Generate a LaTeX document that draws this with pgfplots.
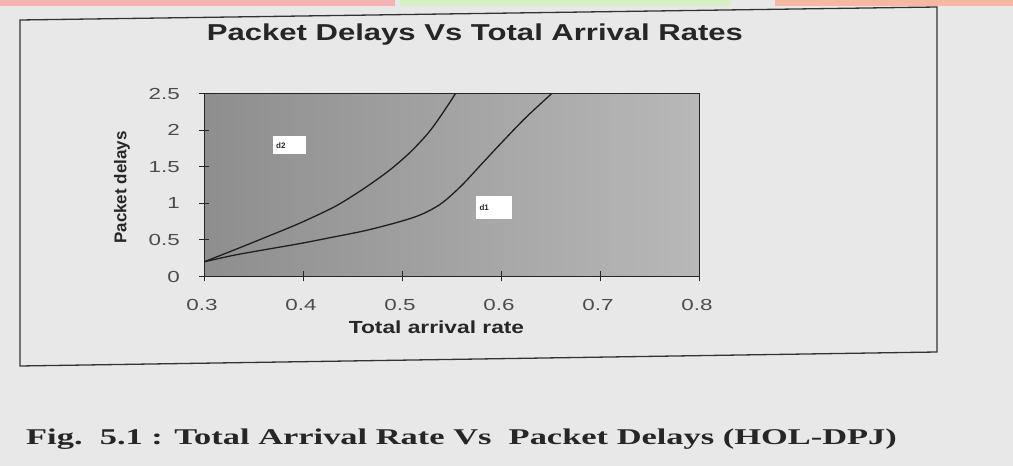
\documentclass[border=0pt]{standalone}
\usepackage{fontspec}
\setmainfont{Liberation Sans}
\newfontfamily\titlefam[FakeStretch=1.35]{Liberation Sans}
\newfontfamily\labelfam[FakeStretch=1.3]{Liberation Sans}
\newfontfamily\tickfam[FakeStretch=1.4]{Liberation Sans}
\newfontfamily\capfam[FakeStretch=1.53]{Liberation Serif}
\usepackage{pgfplots}
\pgfplotsset{compat=1.18}
\definecolor{paper}{HTML}{E8E8E8}
\definecolor{plotL}{HTML}{8E8E8E}
\definecolor{plotR}{HTML}{B8B8B8}
\definecolor{stripA}{HTML}{F4B4B4}
\definecolor{stripB}{HTML}{D6EFC4}
\definecolor{stripC}{HTML}{F6B8A4}
\definecolor{ink}{HTML}{262626}
\begin{document}
\begin{tikzpicture}[x=1pt,y=1pt]
\fill[paper] (0,0) rectangle (1013,466);
\fill[stripA] (0,460) rectangle (395,466);
\fill[stripB] (400,460) rectangle (730,466);
\fill[stripC] (775,460) rectangle (1013,466);
\draw[black!80, line width=1.3pt] (20,446) -- (937,459) -- (937,114) -- (20,100) -- cycle;
\begin{axis}[
  at={(204pt,189.5pt)}, anchor=south west,
  scale only axis, width=495pt, height=183pt,
  xmin=0.3, xmax=0.8, ymin=0, ymax=2.5,
  xtick={0.3,0.4,0.5,0.6,0.7,0.8},
  xticklabels={0.3,0.4,0.5,0.6,0.7,0.8},
  ytick={0,0.5,1,1.5,2,2.5},
  yticklabels={0,0.5,1,1.5,2,2.5},
  xtick pos=bottom, ytick pos=left,
  tick align=center, major tick length=10pt,
  tick style={black!85, line width=0.9pt},
  axis line style={black!85, line width=0.9pt},
  /pgf/number format/assume math mode=true,
  ticklabel style={font=\tickfam\fontsize{16}{16}\selectfont, text=black!70},
  yticklabel style={anchor=east, inner sep=0pt, xshift=-19pt},
  xticklabel style={anchor=base, inner sep=0pt, yshift=-29pt, xshift=-2pt},
  axis background/.style={left color=plotL, right color=plotR},
  title={Packet Delays Vs Total Arrival Rates},
  title style={at={(axis description cs:0.5475,1.2557)}, anchor=base, inner sep=0pt,
    font=\titlefam\bfseries\fontsize{23}{23}\selectfont, text=ink},
  xlabel={Total arrival rate},
  xlabel style={at={(axis description cs:0.4697,-0.3104)}, anchor=base, inner sep=0pt,
    font=\labelfam\bfseries\fontsize{17.5}{17.5}\selectfont, text=ink},
  ylabel={Packet delays},
  ylabel style={at={(axis description cs:-0.1657,0.4863)}, anchor=center, inner sep=0pt,
    font=\bfseries\fontsize{17}{17}\selectfont, text=ink},
  clip=true,
]
% d2
\addplot[black!88, line width=1.3pt, smooth] coordinates {
 (0.300,0.20) (0.330,0.36) (0.363,0.54) (0.397,0.73) (0.430,0.94)
 (0.450,1.10) (0.470,1.28) (0.490,1.48) (0.510,1.72) (0.530,2.02)
 (0.554,2.50) (0.570,2.90)
};
% d1
\addplot[black!88, line width=1.3pt, smooth] coordinates {
 (0.300,0.20) (0.330,0.29) (0.363,0.37) (0.397,0.45) (0.431,0.54)
 (0.464,0.63) (0.498,0.75) (0.520,0.85) (0.540,1.00) (0.560,1.24)
 (0.580,1.53) (0.600,1.82) (0.625,2.17) (0.653,2.52) (0.670,2.72)
};
\node[fill=white, minimum width=33pt, minimum height=18pt, text width=26pt, inner sep=2pt,
  font=\bfseries\fontsize{8}{8}\selectfont, text=ink] at (axis cs:0.386,1.79) {d2};
\node[fill=white, minimum width=36pt, minimum height=23pt, text width=29pt, inner sep=2pt,
  font=\bfseries\fontsize{8}{8}\selectfont, text=ink] at (axis cs:0.593,0.94) {d1};
\end{axis}
\node[anchor=base west, inner sep=0pt, font=\capfam\bfseries\fontsize{22.5}{22.5}\selectfont, text=ink]
  at (26,21) {Fig.\ \ 5.1 : Total Arrival Rate Vs\ \ Packet Delays (HOL-DPJ)};
\end{tikzpicture}
\end{document}
